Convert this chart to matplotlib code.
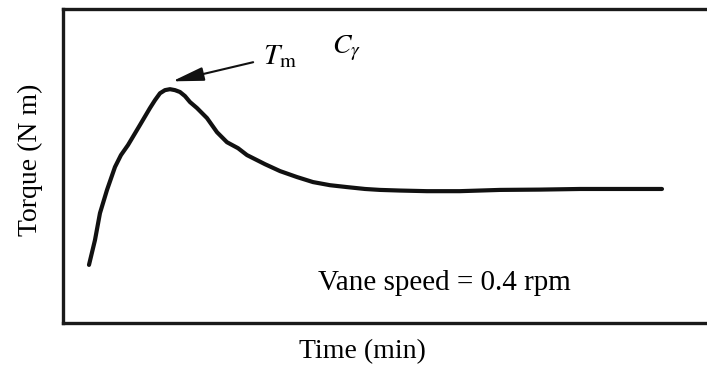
import matplotlib
matplotlib.use("Agg")
import matplotlib.pyplot as plt
import numpy as np

plt.rcParams['font.family'] = ['Liberation Serif', 'DejaVu Serif']
plt.rcParams['mathtext.fontset'] = 'stix'

# torque curve (arbitrary units)
time = [3.95, 4.86, 5.62, 6.69, 7.90, 8.81, 9.88, 10.79, 11.70, 13.22, 13.98,
        14.74, 15.50, 16.26, 17.02, 17.78, 18.54, 19.30, 20.36, 21.88, 23.40,
        24.92, 26.60, 27.96, 30.70, 32.98, 35.56, 37.99, 40.58, 43.16, 45.90,
        48.18, 51.2, 55.32, 60.3, 66.41, 72.5, 78.57, 84.6, 91.03]
torque = [18.5, 26.4, 35.0, 42.4, 49.7, 53.5, 56.7, 59.9, 63.1, 68.5, 71.0,
          73.2, 74.2, 74.5, 74.2, 73.6, 72.3, 70.4, 68.5, 65.3, 60.8,
          57.6, 55.7, 53.5, 50.6, 48.4, 46.5, 44.9, 43.9, 43.3, 42.7,
          42.4, 42.2, 42.0, 42.0, 42.4, 42.5, 42.7, 42.7, 42.7]

peak_t = 16.6
peak_y = 77.0

fig = plt.figure(figsize=(7.07, 3.67), dpi=100)
ax = fig.add_axes([0.0891, 0.120, 0.9307, 0.855])

ax.plot(time, torque, color='#111111', lw=3.0, solid_capstyle='round',
        solid_joinstyle='round')

ax.annotate('', xy=(peak_t, peak_y), xytext=(28.9, 83.1),
            arrowprops=dict(arrowstyle='-|>,head_length=1.6,head_width=0.35',
                            color='#111111', lw=1.5, shrinkA=0, shrinkB=0,
                            mutation_scale=12))
ax.text(30.4, 84.8, r'$T_{\mathrm{m}}$', fontsize=21, va='center', ha='left')
ax.text(40.9, 87.6, r'$C_{\gamma}$', fontsize=20, va='center', ha='left')
ax.text(38.8, 12.7, 'Vane speed = 0.4 rpm', fontsize=21, va='center', ha='left')

ax.set_xlim(0, 100)
ax.set_ylim(0, 100)
ax.set_xticks([])
ax.set_yticks([])
for s in ax.spines.values():
    s.set_linewidth(2.4)
    s.set_color('#1a1a1a')

ax.set_xlabel('Time (min)', fontsize=20, va='center')
ax.xaxis.set_label_coords((362 - 63) / 658, -0.092)
ax.set_ylabel('Torque (N m)', fontsize=20, va='center')
ax.yaxis.set_label_coords(-0.049, 0.519)

fig.savefig('out.png', dpi=100)
